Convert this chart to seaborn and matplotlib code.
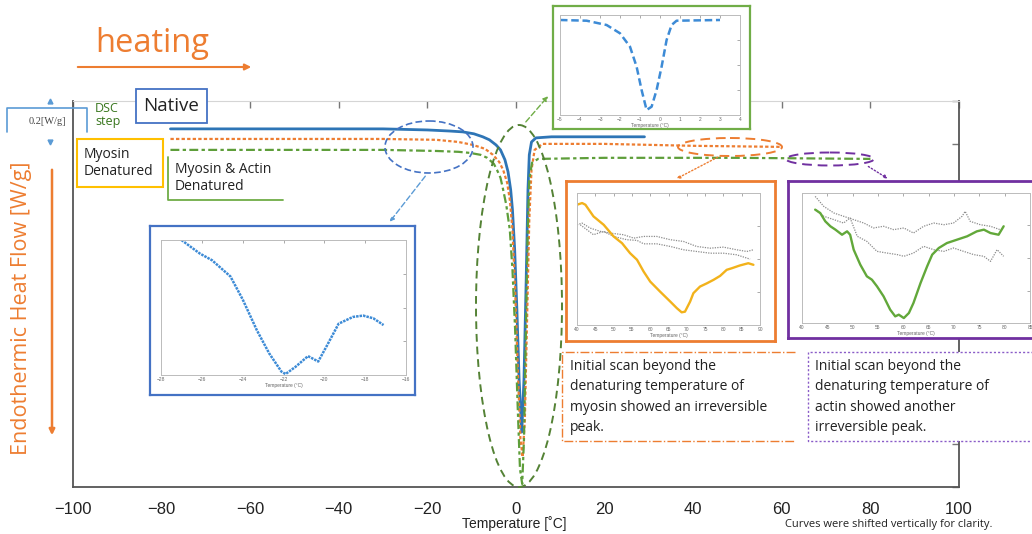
import numpy as np
import seaborn as sns
import matplotlib.pyplot as plt
from matplotlib.patches import Ellipse, Rectangle

# ---- main DSC traces: temperature [C] vs heat flow [W/g] (shifted for clarity)
native_t = [-78, -30, -20, -15, -12, -9.5, -7.5, -6, -4.5, -3.5, -2.5, -1.8, -1.2, -0.8, -0.3,
            0.2, 0.7, 1.3, 1.8, 2.3, 2.7, 3.0, 3.5, 4.5, 8, 29]
native_hf = [-0.130, -0.130, -0.135, -0.140, -0.144, -0.153, -0.167, -0.181, -0.205, -0.228, -0.274,
             -0.330, -0.414, -0.507, -0.693, -0.972, -1.298, -1.544, -1.298, -0.833, -0.414, -0.251,
             -0.191, -0.172, -0.167, -0.167]

myosin_t = [-78, -30, -18, -13, -9.7, -7, -5.2, -3.8, -2.9, -2, -1.4, -0.8, -0.2, 0.4, 1.0, 1.5,
            2.0, 2.5, 3.0, 3.5, 4.2, 6, 20, 40, 60]
myosin_hf = [-0.177, -0.177, -0.181, -0.191, -0.205, -0.223, -0.251, -0.284, -0.321, -0.381, -0.460,
             -0.600, -0.879, -1.251, -1.577, -1.660, -1.484, -1.019, -0.553, -0.321, -0.228, -0.200,
             -0.200, -0.209, -0.214]

actin_t = [-78, -30, -18, -13, -10.4, -8, -6.5, -5, -4.3, -3.5, -2.9, -2.2, -1.4, -0.8, -0.2, 0.4,
           0.9, 1.4, 1.8, 2.2, 2.6, 3.0, 3.6, 5, 20, 50, 80]
actin_hf = [-0.228, -0.228, -0.233, -0.237, -0.242, -0.251, -0.265, -0.293, -0.321, -0.358, -0.414,
            -0.484, -0.600, -0.786, -1.065, -1.437, -1.716, -1.786, -1.577, -1.112, -0.647, -0.367,
            -0.288, -0.270, -0.265, -0.265, -0.270]

# ---- inset 1: native step, zoomed (blue box)
in1_t = [-27.0, -26.1, -25.5, -24.6, -24.0, -23.3, -22.7, -22.1, -21.9, -21.4, -20.8, -20.3,
         -19.9, -19.3, -18.6, -18.1, -17.6, -17.1]
in1_hf = [1.0, 0.90, 0.85, 0.73, 0.56, 0.33, 0.16, 0.025, 0.007, 0.062, 0.14, 0.10, 0.21, 0.38,
          0.43, 0.44, 0.42, 0.37]

# ---- inset 2: melting peak (green box)
in2_t = [-5, -3.67, -2.67, -2, -1.5, -1.17, -0.92, -0.67, -0.42, -0.17, 0.08, 0.33, 0.58, 0.83, 3]
in2_hf = [0.95, 0.943, 0.90, 0.817, 0.683, 0.483, 0.25, 0.05, 0.083, 0.25, 0.483, 0.75, 0.90, 0.943, 0.95]

# ---- inset 3: myosin (orange box)
in3_t = [40.0, 41.4, 42.3, 44.5, 47.3, 50.0, 52.3, 54.5, 56.4, 58.2, 60.0, 62.7, 65.5, 67.3, 68.6,
         69.5, 70.9, 71.8, 73.6, 75.5, 77.3, 79.1, 80.9, 82.3, 84.5, 86.8, 88.2]
in3_hf = [0.911, 0.924, 0.911, 0.823, 0.759, 0.671, 0.620, 0.544, 0.494, 0.405, 0.329, 0.253, 0.177,
          0.127, 0.096, 0.101, 0.177, 0.241, 0.291, 0.316, 0.342, 0.372, 0.418, 0.430, 0.451, 0.468, 0.456]
in3_ref1_t = [40, 41.4, 43.6, 46.4, 49.1, 52.7, 55.5, 58.2, 61.8, 65.5, 69.1, 72.7, 76.4, 80.0, 83.6, 86.4, 88.2]
in3_ref1_hf = [0.759, 0.772, 0.734, 0.709, 0.696, 0.684, 0.658, 0.671, 0.671, 0.646, 0.633, 0.595,
               0.582, 0.590, 0.570, 0.557, 0.570]
in3_ref2_t = [40.9, 42.7, 44.5, 47.3, 50.0, 53.6, 56.4, 58.2, 61.8, 65.5, 69.1, 72.7, 76.4, 80.0, 83.6, 87.3]
in3_ref2_hf = [0.759, 0.722, 0.684, 0.709, 0.671, 0.646, 0.641, 0.615, 0.615, 0.595, 0.570, 0.557,
               0.544, 0.544, 0.532, 0.499]

# ---- inset 4: actin (purple box)
in4_t = [42.6, 43.6, 44.6, 45.6, 46.6, 47.9, 48.9, 49.5, 50.2, 51.5, 52.8, 53.8, 54.8, 56.1, 57.4,
         58.4, 59.1, 60.1, 61.1, 62.0, 63.4, 64.7, 65.7, 67.0, 68.6, 70.6, 72.6, 74.5, 75.9, 77.2,
         78.8, 79.8]
in4_hf = [0.872, 0.846, 0.782, 0.744, 0.718, 0.679, 0.705, 0.679, 0.564, 0.449, 0.359, 0.333, 0.282,
          0.205, 0.103, 0.051, 0.064, 0.038, 0.077, 0.154, 0.308, 0.436, 0.526, 0.577, 0.615, 0.641,
          0.667, 0.705, 0.718, 0.692, 0.679, 0.744]
in4_ref1_t = [42.6, 44.3, 46.3, 48.2, 50.2, 52.2, 54.1, 56.1, 58.1, 60.1, 62.0, 64.0, 66.0, 68.0,
              69.9, 71.6, 72.2, 73.2, 75.2, 77.2, 79.1]
in4_ref1_hf = [0.974, 0.897, 0.846, 0.821, 0.795, 0.769, 0.731, 0.744, 0.718, 0.731, 0.692, 0.744,
               0.769, 0.756, 0.769, 0.821, 0.859, 0.782, 0.756, 0.744, 0.718]
in4_ref2_t = [42.6, 44.3, 46.3, 48.2, 49.5, 50.9, 52.8, 54.8, 56.8, 58.8, 60.1, 62.0, 64.0, 66.0,
              68.0, 69.9, 71.9, 73.9, 75.9, 77.2, 78.5, 79.8]
in4_ref2_hf = [0.872, 0.821, 0.795, 0.769, 0.808, 0.667, 0.628, 0.551, 0.538, 0.526, 0.513, 0.538,
               0.590, 0.564, 0.551, 0.577, 0.551, 0.526, 0.513, 0.474, 0.564, 0.513]

BLUE = '#2E75B6'
ORANGE = '#ED7D31'
GREEN = '#70AD47'
PURPLE = '#7030A0'
YELLOW = '#FFC000'

sns.set_style('white')
plt.rcParams['font.family'] = ['Liberation Sans', 'DejaVu Sans']
TXT = ['Open Sans', 'DejaVu Sans']

W, H = 1032, 534
fig = plt.figure(figsize=(W / 100, H / 100), dpi=100)


def box(x0, y0, x1, y1):
    # pixel rectangle (top-left origin) -> figure fraction
    return [x0 / W, 1 - y1 / H, (x1 - x0) / W, (y1 - y0) / H]


# ---------------- main axes
ax = fig.add_axes(box(73, 101, 959, 487))
sns.lineplot(x=native_t, y=native_hf, ax=ax, color=BLUE, lw=2.0, estimator=None, sort=False)
sns.lineplot(x=myosin_t, y=myosin_hf, ax=ax, color=ORANGE, lw=1.6, estimator=None, sort=False,
             linestyle=(0, (1.5, 1)))
sns.lineplot(x=actin_t, y=actin_hf, ax=ax, color='#5E9E3A', lw=1.6, estimator=None, sort=False,
             linestyle=(0, (4, 1.5, 1.5, 1.5)))
ax.set_xlim(-100, 100)
ax.set_ylim(-1.8, 0)
ax.set_xticks(np.arange(-100, 101, 20))
ax.set_yticks(np.arange(-1.8, 0.01, 0.2))
ax.set_yticklabels([])
ax.tick_params(direction='in', top=True, right=True, length=5, width=1, color='#777',
               labelsize=12, labelcolor='#222', pad=11)
for side in ['left', 'bottom', 'right']:
    ax.spines[side].set_color('#555')
    ax.spines[side].set_linewidth(1.3)
ax.spines['top'].set_color('#d5d5d5')
ax.set_xlabel('')
ax.set_ylabel('')


# ---------------- insets
def inset(frame, inner, edge, xlim, xticks, lw=1.6):
    fr = fig.add_axes(box(*frame))
    fr.set_xticks([])
    fr.set_yticks([])
    for s in fr.spines.values():
        s.set_color(edge)
        s.set_linewidth(lw)
    ia = fig.add_axes(box(*inner))
    ia.set_xlim(*xlim)
    ia.set_ylim(0, 1)
    ia.set_xticks(xticks)
    ia.set_yticks([0.25, 0.5, 0.75])
    ia.set_yticklabels([])
    ia.tick_params(direction='in', top=True, right=True, length=2, width=0.5, color='#888',
                   labelsize=3.5, labelcolor='#666', pad=1.5)
    for s in ia.spines.values():
        s.set_color('#bbbbbb')
        s.set_linewidth(0.7)
    return ia


def inset_label(ia):
    ia.set_xlabel('Temperature (°C)', fontsize=3.5, color='#666', labelpad=0.5)
    ia.set_ylabel('')


ia1 = inset((150, 226, 415, 395), (161, 240, 406, 375), '#4472C4', (-28, -16), np.arange(-28, -15, 2))
sns.lineplot(x=in1_t, y=in1_hf, ax=ia1, color='#3D8BD6', lw=1.8, estimator=None, sort=False,
             linestyle=(0, (1, 0.4)))
inset_label(ia1)

ia2 = inset((553, 6, 750, 129), (560, 15, 740, 115), GREEN, (-5, 4), np.arange(-5, 5, 1))
sns.lineplot(x=in2_t, y=in2_hf, ax=ia2, color='#3D8BD6', lw=1.8, estimator=None, sort=False,
             linestyle=(0, (3, 1.5)))
inset_label(ia2)

ia3 = inset((566, 181, 775, 341), (577, 193, 760, 325), ORANGE, (40, 90), np.arange(40, 91, 5), lw=2)
sns.lineplot(x=in3_ref1_t, y=in3_ref1_hf, ax=ia3, color='#8c8c8c', lw=0.9, estimator=None,
             sort=False, linestyle=(0, (1, 1)))
sns.lineplot(x=in3_ref2_t, y=in3_ref2_hf, ax=ia3, color='#8c8c8c', lw=0.9, estimator=None,
             sort=False, linestyle=(0, (1, 1)))
sns.lineplot(x=in3_t, y=in3_hf, ax=ia3, color='#F2B21B', lw=1.7, estimator=None, sort=False)
inset_label(ia3)

ia4 = inset((788, 181, 1045, 338), (802, 193, 1030, 323), PURPLE, (40, 85), np.arange(40, 86, 5), lw=2)
sns.lineplot(x=in4_ref1_t, y=in4_ref1_hf, ax=ia4, color='#8c8c8c', lw=0.9, estimator=None,
             sort=False, linestyle=(0, (1, 1)))
sns.lineplot(x=in4_ref2_t, y=in4_ref2_hf, ax=ia4, color='#8c8c8c', lw=0.9, estimator=None,
             sort=False, linestyle=(0, (1, 1)))
sns.lineplot(x=in4_t, y=in4_hf, ax=ia4, color='#62A83A', lw=1.7, estimator=None, sort=False)
inset_label(ia4)

# ---------------- overlay in pixel coordinates for the annotations
ov = fig.add_axes([0, 0, 1, 1], zorder=20)
ov.set_xlim(0, W)
ov.set_ylim(H, 0)
ov.axis('off')
ov.patch.set_alpha(0)

# heating arrow
ov.text(152, 44, 'heating', fontsize=23.5, color=ORANGE, ha='center', va='center', family=TXT)
ov.annotate('', xy=(254, 67), xytext=(75, 67),
            arrowprops=dict(arrowstyle='-|>', color=ORANGE, lw=1.5, mutation_scale=9))

# y label + arrow
ov.text(22, 308, 'Endothermic Heat Flow [W/g]', rotation=90, fontsize=15.5, color=ORANGE,
        ha='center', va='center', family=TXT)
ov.annotate('', xy=(52, 438), xytext=(52, 167),
            arrowprops=dict(arrowstyle='-|>', color=ORANGE, lw=1.8, mutation_scale=8))

# scale bar
ov.plot([7, 7, 87, 87], [132, 108, 108, 132], color='#5B9BD5', lw=1.2)
ov.text(47, 121, '0.2[W/g]', fontsize=7.5, color='#444', ha='center', va='center',
        family=['Liberation Serif', 'DejaVu Serif'])
ov.plot([50], [101], marker='^', ms=3.5, color='#5B9BD5')
ov.plot([50], [142], marker='v', ms=3.5, color='#5B9BD5')
ov.text(95, 102, 'DSC\nstep', fontsize=9, color='#38761D', ha='left', va='top', family=TXT,
        linespacing=1.05)

# curve labels
ov.add_patch(Rectangle((136, 89), 71, 34, fill=True, fc='white', ec='#4472C4', lw=1.3))
ov.text(171, 106, 'Native', fontsize=13.5, color='#222', ha='center', va='center', family=TXT)
ov.add_patch(Rectangle((77, 139), 86, 48, fill=True, fc='white', ec=YELLOW, lw=1.5))
ov.text(84, 163, 'Myosin\nDenatured', fontsize=10, color='#222', ha='left', va='center',
        family=TXT, linespacing=1.2)
ov.plot([168, 168, 283], [157, 200, 200], color=GREEN, lw=1.3)
ov.text(175, 178, 'Myosin & Actin\nDenatured', fontsize=10, color='#222', ha='left', va='center',
        family=TXT, linespacing=1.2)

# ellipses + connectors
ov.add_patch(Ellipse((429, 147), 88, 52, fill=False, ec='#4472C4', lw=1.2, ls=(0, (4, 2))))
ov.annotate('', xy=(388, 224), xytext=(427, 174),
            arrowprops=dict(arrowstyle='-|>', color='#5B9BD5', lw=1, ls=(0, (4, 2)), mutation_scale=6))
ov.add_patch(Ellipse((519, 306), 86, 362, fill=False, ec='#548235', lw=1.4, ls=(0, (4, 2.5))))
ov.annotate('', xy=(550, 94), xytext=(524, 124),
            arrowprops=dict(arrowstyle='-|>', color=GREEN, lw=1, ls=(0, (4, 2)), mutation_scale=7))
ov.add_patch(Ellipse((730, 147), 104, 18, fill=False, ec=ORANGE, lw=1.4, ls=(0, (5, 3))))
ov.annotate('', xy=(674, 180), xytext=(720, 156),
            arrowprops=dict(arrowstyle='-|>', color=ORANGE, lw=1, ls=(0, (1, 1.5)), mutation_scale=5))
ov.add_patch(Ellipse((830, 159), 88, 13, fill=False, ec=PURPLE, lw=1.4, ls=(0, (5, 3))))
ov.annotate('', xy=(890, 180), xytext=(866, 165),
            arrowprops=dict(arrowstyle='-|>', color=PURPLE, lw=1, ls=(0, (1, 1.5)), mutation_scale=5))

# explanation boxes (white filled, so the axis spine is hidden behind them)
ov.add_patch(Rectangle((562, 352), 233, 89, fc='white', ec='none'))
ov.plot([795, 562, 562, 795], [352, 352, 441, 441], color=ORANGE, lw=1, ls='-.')
myo_lines = ['Initial scan beyond the', 'denaturing temperature of',
             'myosin showed an irreversible', 'peak.']
for i, line in enumerate(myo_lines):
    ov.text(570, 366 + i * 20.6, line, fontsize=10, color='#222', ha='left', va='center', family=TXT)
ov.add_patch(Rectangle((808, 352), 240, 89, fc='white', ec='none'))
ov.plot([1040, 808, 808, 1040], [352, 352, 441, 441], color='#8A5CC8', lw=1, ls=(0, (1.5, 1.5)))
act_lines = ['Initial scan beyond the', 'denaturing temperature of',
             'actin showed another', 'irreversible peak.']
for i, line in enumerate(act_lines):
    ov.text(815, 366 + i * 20.6, line, fontsize=10, color='#222', ha='left', va='center', family=TXT)

# axis title and footnote
ov.text(514, 524, 'Temperature [˚C]', fontsize=10, color='#222', ha='center', va='center')
ov.text(785, 525, 'Curves were shifted vertically for clarity.', fontsize=8, color='#222',
        ha='left', va='center', family=TXT)

fig.savefig('out.png', dpi=100)
